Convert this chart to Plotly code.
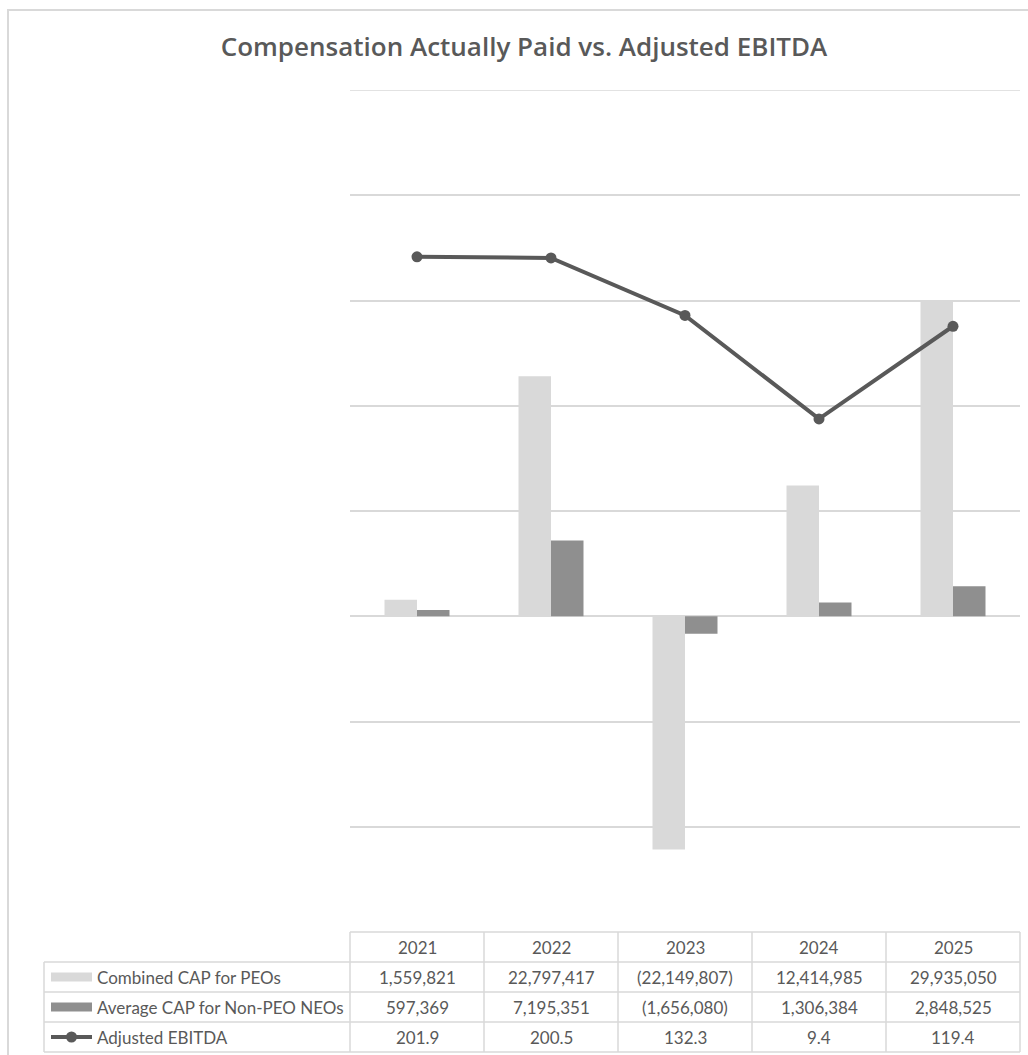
import plotly.graph_objects as go

# ---- data ----
years = ["2021", "2022", "2023", "2024", "2025"]
combined_cap_peos = [1559821, 22797417, -22149807, 12414985, 29935050]
avg_cap_non_peo = [597369, 7195351, -1656080, 1306384, 2848525]
adjusted_ebitda = [201.9, 200.5, 132.3, 9.4, 119.4]

series_names = ["Combined CAP for PEOs", "Average CAP for Non-PEO NEOs", "Adjusted EBITDA"]

# primary (CAP) and secondary (EBITDA) axis extents
cap_min, cap_max, cap_step = -30_000_000, 50_000_000, 10_000_000
ebitda_min, ebitda_max = -600, 400

LIGHT = "#d9d9d9"
DARK = "#8f8f8f"
LINE = "#595959"
TEXT = "#595959"
GRID = "#d9d9d9"

W, H = 1028, 1055


def px(x):
    return x / W


def py(y):
    return 1 - y / H


def money(v):
    s = f"{abs(v):,}"
    return f"({s})" if v < 0 else s


fig = go.Figure()
fig.add_trace(go.Bar(x=years, y=combined_cap_peos, name=series_names[0],
                     marker=dict(color=LIGHT, line=dict(width=0))))
fig.add_trace(go.Bar(x=years, y=avg_cap_non_peo, name=series_names[1],
                     marker=dict(color=DARK, line=dict(width=0))))
fig.add_trace(go.Scatter(x=years, y=adjusted_ebitda, name=series_names[2], yaxis="y2",
                         mode="lines+markers",
                         line=dict(color=LINE, width=4),
                         marker=dict(color=LINE, size=11)))

plot_left, plot_right, plot_top, plot_bottom = 350, 1020, 90, 932

shapes = []
annotations = []

# outer chart border
shapes.append(dict(type="rect", xref="paper", yref="paper",
                   x0=px(8), x1=px(1040), y0=py(1070), y1=py(10),
                   line=dict(color=GRID, width=2), fillcolor="rgba(0,0,0,0)", layer="below"))

# top gridline at the axis maximum (plotly skips gridlines on the plot edge)
shapes.append(dict(type="line", xref="paper", yref="y",
                   x0=px(plot_left), x1=px(plot_right), y0=cap_max, y1=cap_max,
                   line=dict(color=GRID, width=1.5), layer="below"))

# data table grid
col_edges = [350, 484, 618, 752, 886, 1020]
row_edges = [932, 962, 992, 1022, 1052]
label_left = 44
line_style = dict(color=GRID, width=1.5)
for i, y in enumerate(row_edges):
    x0 = plot_left if i == 0 else label_left
    shapes.append(dict(type="line", xref="paper", yref="paper",
                       x0=px(x0), x1=px(col_edges[-1]), y0=py(y), y1=py(y), line=line_style))
for x in col_edges:
    shapes.append(dict(type="line", xref="paper", yref="paper",
                       x0=px(x), x1=px(x), y0=py(row_edges[0]), y1=py(row_edges[-1]), line=line_style))
shapes.append(dict(type="line", xref="paper", yref="paper",
                   x0=px(label_left), x1=px(label_left), y0=py(row_edges[1]), y1=py(row_edges[-1]),
                   line=line_style))

table_font = dict(family="Lato, Open Sans, sans-serif", size=17, color=TEXT)


def cell_text(xc, yc, text, anchor="center"):
    annotations.append(dict(x=px(xc), y=py(yc), xref="paper", yref="paper",
                            xanchor=anchor, yanchor="middle", text=text,
                            showarrow=False, font=table_font))


# header row: years
for j, yr in enumerate(years):
    cell_text((col_edges[j] + col_edges[j + 1]) / 2, (row_edges[0] + row_edges[1]) / 2, yr)

rows = [
    [money(v) for v in combined_cap_peos],
    [money(v) for v in avg_cap_non_peo],
    [f"{v:.1f}" for v in adjusted_ebitda],
]
for r, vals in enumerate(rows):
    yc = (row_edges[r + 1] + row_edges[r + 2]) / 2
    for j, t in enumerate(vals):
        cell_text((col_edges[j] + col_edges[j + 1]) / 2, yc, t)
    cell_text(95, yc, series_names[r], anchor="left")

# legend keys in the table
key_x0, key_x1 = 51, 92
for r, color in enumerate([LIGHT, DARK]):
    yc = (row_edges[r + 1] + row_edges[r + 2]) / 2
    shapes.append(dict(type="rect", xref="paper", yref="paper",
                       x0=px(key_x0), x1=px(key_x1), y0=py(yc + 4.5), y1=py(yc - 4.5),
                       fillcolor=color, line=dict(width=0)))
yc = (row_edges[3] + row_edges[4]) / 2
shapes.append(dict(type="line", xref="paper", yref="paper",
                   x0=px(key_x0), x1=px(key_x1), y0=py(yc), y1=py(yc),
                   line=dict(color=LINE, width=4)))
shapes.append(dict(type="circle", xref="paper", yref="paper",
                   x0=px(66), x1=px(77), y0=py(yc + 5.5), y1=py(yc - 5.5),
                   fillcolor=LINE, line=dict(width=0)))

fig.update_layout(
    width=W, height=H,
    margin=dict(l=0, r=0, t=0, b=0),
    paper_bgcolor="white", plot_bgcolor="white",
    title=dict(text="Compensation Actually Paid vs. Adjusted EBITDA",
               x=px(524), xanchor="center", y=py(47), yanchor="middle",
               font=dict(family="Open Sans, sans-serif", size=26, color=TEXT, weight=600)),
    barmode="group", bargap=0.515, bargroupgap=0,
    showlegend=False,
    xaxis=dict(domain=[px(plot_left), px(plot_right)], showticklabels=False, showgrid=False,
               zeroline=False, showline=False, ticks=""),
    yaxis=dict(domain=[py(plot_bottom), py(plot_top)], range=[cap_min, cap_max],
               tick0=0, dtick=cap_step, showgrid=True, gridcolor=GRID, gridwidth=1.5,
               zeroline=True, zerolinecolor=GRID, zerolinewidth=1.5,
               showticklabels=False, ticks="", showline=False),
    yaxis2=dict(overlaying="y", side="right", range=[ebitda_min, ebitda_max], showgrid=False,
                zeroline=False, showticklabels=False, ticks="", showline=False),
    shapes=shapes,
    annotations=annotations,
)

fig.write_html("out.html")
